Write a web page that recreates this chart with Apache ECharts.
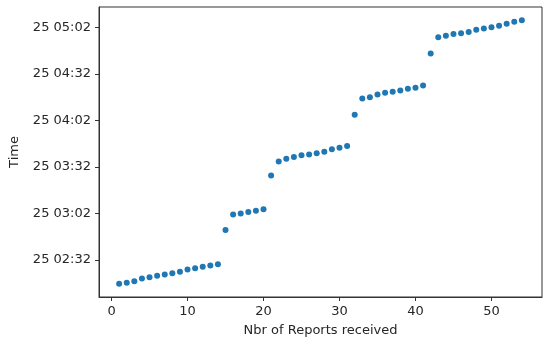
<!DOCTYPE html>
<html>
<head>
<meta charset="utf-8">
<script src="https://cdn.jsdelivr.net/npm/echarts@6/dist/echarts.min.js"></script>
<style>html,body{margin:0;padding:0;background:#fff}#c{width:550px;height:345px}</style>
</head>
<body>
<div id="c"></div>
<script>
// Report number (x) and reception time on day 25 (y)
var reportNumbers = [1,2,3,4,5,6,7,8,9,10,11,12,13,14,15,16,17,18,19,20,21,22,23,24,25,26,27,28,29,30,31,32,33,34,35,36,37,38,39,40,41,42,43,44,45,46,47,48,49,50,51,52,53,54];
var receivedTimes = [
  "02:16:30","02:17:09","02:18:12","02:19:54","02:20:48","02:21:42","02:22:30","02:23:24","02:24:18","02:25:42",
  "02:26:36","02:27:30","02:28:18","02:29:12","02:51:12","03:01:18","03:01:54","03:02:54","03:03:42","03:04:42",
  "03:26:24","03:35:30","03:37:12","03:38:24","03:39:30","03:40:00","03:40:48","03:41:48","03:43:24","03:44:18",
  "03:45:24","04:05:36","04:16:12","04:17:00","04:18:42","04:19:48","04:20:30","04:21:18","04:22:24","04:23:06",
  "04:24:30","04:45:12","04:55:42","04:56:36","04:57:42","04:58:18","04:59:00","05:00:30","05:01:21","05:02:12",
  "05:03:06","05:04:24","05:05:42","05:06:42"
];
var xTickLabels = [0,10,20,30,40,50];
var yTickLabels = ["25 02:32","25 03:02","25 03:32","25 04:02","25 04:32","25 05:02"];

function toMin(s){ var p=s.split(":"); return (+p[0])*60 + (+p[1]) + (p[2]?(+p[2])/60:0); }
function pad(n){ return (n<10?"0":"")+n; }
function fmt(v){ var m=Math.round(v); return "25 " + pad(Math.floor(m/60)) + ":" + pad(m%60); }

var yVals = receivedTimes.map(toMin);
var data = reportNumbers.map(function(x,i){ return [x, yVals[i]]; });
var yTicks = yTickLabels.map(function(l){ return toMin(l.split(" ")[1]); });

var xmin = Math.min.apply(null, reportNumbers), xmax = Math.max.apply(null, reportNumbers);
var ymin = Math.min.apply(null, yVals), ymax = Math.max.apply(null, yVals);
var xp = (xmax-xmin)*0.05, yp = (ymax-ymin)*0.05;

var font = "DejaVu Sans";
var txt = '#262626';
var chart = echarts.init(document.getElementById('c'), null, {renderer:'canvas'});
chart.setOption({
  animation:false,
  grid:{left:97, top:7, right:8, bottom:48, show:true, borderColor:'#333', borderWidth:1, backgroundColor:'#fff'},
  xAxis:{
    type:'value', min:xmin-xp, max:xmax+xp,
    name:'Nbr of Reports received', nameLocation:'middle', nameGap:27,
    nameTextStyle:{fontFamily:font, fontSize:13, color:txt},
    axisLine:{show:true, onZero:false, lineStyle:{color:'#333'}},
    axisTick:{show:true, length:4, lineStyle:{color:'#333'}, customValues:xTickLabels},
    axisLabel:{fontFamily:font, fontSize:13, color:txt, margin:8, customValues:xTickLabels},
    splitLine:{show:false}
  },
  yAxis:{
    type:'value', min:ymin-yp, max:ymax+yp,
    name:'Time', nameLocation:'middle', nameGap:78,
    nameTextStyle:{fontFamily:font, fontSize:13, color:txt},
    axisLine:{show:true, onZero:false, lineStyle:{color:'#333'}},
    axisTick:{show:true, length:4, lineStyle:{color:'#333'}, customValues:yTicks},
    axisLabel:{fontFamily:font, fontSize:13, color:txt, margin:8, customValues:yTicks, formatter:function(v){return fmt(v);}},
    splitLine:{show:false}
  },
  series:[{
    type:'scatter', data:data, symbolSize:6,
    itemStyle:{color:'#1f77b4', opacity:1}
  }]
});
</script>
</body>
</html>
